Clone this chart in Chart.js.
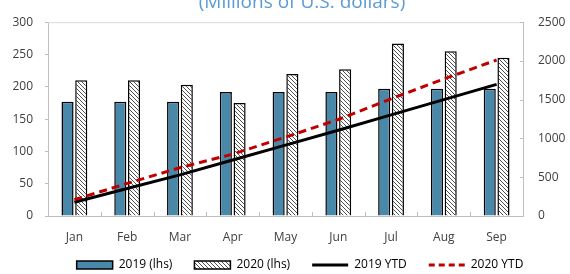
<!DOCTYPE html>
<html>
<head>
<meta charset="utf-8">
<script src="https://cdn.jsdelivr.net/npm/chart.js@4.4.1/dist/chart.umd.min.js"></script>
<style>
  html, body { margin: 0; padding: 0; background: #fff; }
  #wrap { width: 570px; height: 274px; }
</style>
</head>
<body>
<div id="wrap"><canvas id="monthlyChart" width="570" height="274"></canvas></div>
<script>
// valores (milhões de US$)
const months = ['Jan', 'Feb', 'Mar', 'Apr', 'May', 'Jun', 'Jul', 'Aug', 'Sep'];
const values2019 = [177, 177, 177, 192, 192, 192, 197, 197, 197];
const values2020 = [210, 210, 203, 175, 220, 227, 267, 255, 245];
const ytd2019 = [177, 354, 531, 723, 915, 1107, 1304, 1501, 1698];
const ytd2020 = [210, 420, 623, 798, 1018, 1245, 1512, 1767, 2012];
const legendLabels = ['2019 (lhs)', '2020 (lhs)', '2019 YTD', '2020 YTD'];

const textColor = '#404040';
const axisColor = '#bfbfbf';
const blue2019 = '#4a88aa';
const red2020 = '#c00000';

Chart.defaults.font.family = '"Open Sans", "Noto Sans", sans-serif';
Chart.defaults.font.size = 12;
Chart.defaults.color = textColor;

// padrão hachurado para as barras de 2020
function makeHatch() {
    const tile = document.createElement('canvas');
    tile.width = 4;
    tile.height = 4;
    const t = tile.getContext('2d');
    t.fillStyle = '#ffffff';
    t.fillRect(0, 0, 4, 4);
    t.strokeStyle = '#505050';
    t.lineWidth = 1;
    t.beginPath();
    t.moveTo(-1, -1); t.lineTo(5, 5);
    t.moveTo(-1, 3); t.lineTo(1, 5);
    t.moveTo(3, -1); t.lineTo(5, 1);
    t.stroke();
    return document.getElementById('monthlyChart').getContext('2d').createPattern(tile, 'repeat');
}
const hatch = makeHatch();

// título cortado no topo, moldura e pequenos traços internos
const framePlugin = {
    id: 'frame',
    beforeDatasetsDraw(chart) {
        const { ctx, chartArea } = chart;
        const xs = chart.scales.x;
        const y1 = chart.scales.y1;
        ctx.save();
        ctx.strokeStyle = '#d9d9d9';
        ctx.lineWidth = 1;
        ctx.beginPath();
        ctx.moveTo(chartArea.left, chartArea.top + 0.5);
        ctx.lineTo(chartArea.right, chartArea.top + 0.5);
        ctx.stroke();
        ctx.strokeStyle = axisColor;
        ctx.beginPath();
        for (let i = 1; i < months.length; i++) {
            const x = Math.round((xs.getPixelForValue(i - 1) + xs.getPixelForValue(i)) / 2) + 0.5;
            ctx.moveTo(x, chartArea.bottom);
            ctx.lineTo(x, chartArea.bottom - 4);
        }
        y1.ticks.forEach(tick => {
            const y = Math.round(y1.getPixelForValue(tick.value)) + 0.5;
            ctx.moveTo(chartArea.right, y);
            ctx.lineTo(chartArea.right - 3, y);
        });
        ctx.stroke();
        ctx.restore();
    },
    afterDraw(chart) {
        const ctx = chart.ctx;
        ctx.save();
        ctx.font = '19px "Open Sans", sans-serif';
        ctx.fillStyle = '#5b9bd5';
        ctx.textAlign = 'center';
        ctx.textBaseline = 'alphabetic';
        ctx.fillText('(Millions of U.S. dollars)', 302, 7.5);
        ctx.restore();
    },
    afterLayout(chart) {
        // legenda um pouco deslocada, como no original
        chart.legend.left += 15;
        chart.legend.right += 15;
        chart.legend.top -= 13;
    }
};

const ctx = document.getElementById('monthlyChart').getContext('2d');
const myChart = new Chart(ctx, {
    data: {
        labels: months,
        datasets: [
            {
                type: 'line',
                label: legendLabels[3],
                data: ytd2020,
                yAxisID: 'y1',
                borderColor: red2020,
                borderWidth: 3,
                borderDash: [8, 5],
                pointRadius: 0,
                tension: 0,
                order: 0
            },
            {
                type: 'line',
                label: legendLabels[2],
                data: ytd2019,
                yAxisID: 'y1',
                borderColor: '#000000',
                borderWidth: 3,
                pointRadius: 0,
                tension: 0,
                order: 1
            },
            {
                type: 'bar',
                label: legendLabels[0],
                data: values2019,
                yAxisID: 'y',
                backgroundColor: blue2019,
                borderColor: '#000000',
                borderWidth: 1.5,
                categoryPercentage: 0.52,
                barPercentage: 0.88,
                order: 2
            },
            {
                type: 'bar',
                label: legendLabels[1],
                data: values2020,
                yAxisID: 'y',
                backgroundColor: hatch,
                borderColor: '#000000',
                borderWidth: 1.5,
                categoryPercentage: 0.52,
                barPercentage: 0.88,
                order: 2
            }
        ]
    },
    options: {
        responsive: false,
        animation: false,
        layout: { padding: { top: 16, left: 0, right: 0, bottom: 0 } },
        scales: {
            x: {
                offset: true,
                grid: { display: false, drawTicks: false },
                border: { color: axisColor },
                ticks: { padding: 14, color: textColor },
                afterFit(scale) { scale.height = 34; }
            },
            y: {
                position: 'left',
                min: 0,
                max: 300,
                ticks: { stepSize: 50, padding: 12, color: textColor },
                grid: { drawOnChartArea: false, tickLength: 3, color: axisColor },
                border: { color: axisColor },
                afterFit(scale) { scale.width = 48; }
            },
            y1: {
                position: 'right',
                min: 0,
                max: 2500,
                ticks: {
                    stepSize: 500,
                    padding: 15,
                    color: textColor,
                    callback: value => String(value)
                },
                grid: { drawOnChartArea: false, drawTicks: false },
                border: { color: axisColor },
                afterFit(scale) { scale.width = 47; }
            }
        },
        plugins: {
            title: { display: false },
            tooltip: { enabled: false },
            legend: {
                position: 'bottom',
                maxHeight: 24,
                labels: {
                    usePointStyle: true,
                    pointStyleWidth: 36,
                    boxHeight: 8,
                    padding: 22,
                    color: textColor,
                    generateLabels: function(chart) {
                        return [
                            { text: legendLabels[0], fillStyle: blue2019, strokeStyle: '#000000', lineWidth: 1.5, pointStyle: 'rect', datasetIndex: 2 },
                            { text: legendLabels[1], fillStyle: hatch, strokeStyle: '#000000', lineWidth: 1.5, pointStyle: 'rect', datasetIndex: 3 },
                            { text: legendLabels[2], fillStyle: '#000000', strokeStyle: '#000000', lineWidth: 3, pointStyle: 'line', datasetIndex: 1 },
                            { text: legendLabels[3], fillStyle: red2020, strokeStyle: red2020, lineWidth: 3, lineDash: [6, 4], pointStyle: 'line', datasetIndex: 0 }
                        ];
                    }
                }
            }
        }
    },
    plugins: [framePlugin]
});
</script>
</body>
</html>
